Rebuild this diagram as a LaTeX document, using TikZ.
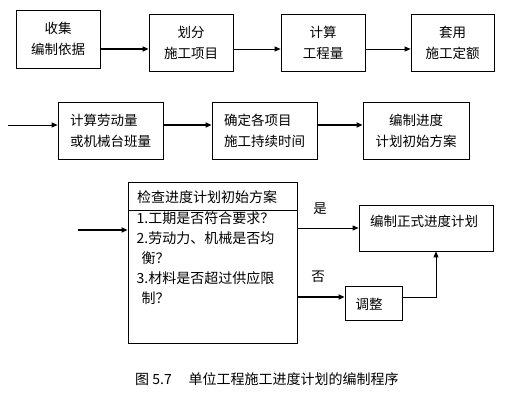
\documentclass[tikz,border=0pt]{standalone}
\usepackage{fontspec}
\setmainfont{Noto Sans CJK SC}
\usetikzlibrary{arrows.meta}
\begin{document}
\begin{tikzpicture}[x=1pt,y=-1pt,
  every node/.style={font=\fontsize{13.5}{21}\selectfont, inner sep=0pt},
  box/.style={draw, line width=0.8pt, minimum width=#1},
  thinarr/.style={line width=0.8pt, -{Triangle[length=6pt,width=5pt]}},
  thickarr/.style={line width=1.5pt, -{Triangle[length=6pt,width=5pt]}},
  plain/.style={line width=0.8pt}]
\fill[white] (0,0) rectangle (511,419);
\useasboundingbox (0,0) rectangle (511,419);
% row 1
\node[box=84pt, minimum height=58pt, align=center] (b1) at (58,39) {收集\\编制依据};
\node[box=84pt, minimum height=57pt, align=center] (b2) at (191,42.5) {划分\\施工项目};
\node[box=84pt, minimum height=57pt, align=center] (b3) at (323,42.5) {计算\\工程量};
\node[box=83pt, minimum height=57pt, align=center] (b4) at (452.5,42.5) {套用\\施工定额};
\coordinate (r1) at (0,49);
\draw[thickarr] (b1.east |- r1) -- (b2.west |- r1);
\draw[thinarr] (b2.east |- r1) -- (b3.west |- r1);
\draw[thinarr] (b3.east |- r1) -- (b4.west |- r1);
% row 2
\node[box=105pt, minimum height=57pt, align=left] (b5) at (110.5,130.5) {计算劳动量\\或机械台班量};
\node[box=105pt, minimum height=57pt, align=left] (b6) at (264.5,130.5) {确定各项目\\施工持续时间};
\node[box=106pt, minimum height=57pt, align=center] (b7) at (416,130.5) {编制进度\\计划初始方案};
\coordinate (r2) at (0,125);
\coordinate (in2) at (8,125);
\draw[thinarr] (in2) -- (b5.west |- r2);
\draw[thickarr] (b5.east |- r2) -- (b6.west |- r2);
\draw[thickarr] (b6.east |- r2) -- (b7.west |- r2);
% row 3
\node[box=169pt, minimum height=161pt] (big) at (212.5,262.5) {};
\coordinate (hl) at (0,210);
\draw[plain] (big.west |- hl) -- (big.east |- hl);
\node[anchor=west, font=\fontsize{14}{20}\selectfont] (head) at (137,197) {检查进度计划初始方案};
\node[anchor=north west, align=left, font=\fontsize{14}{20}\selectfont] (list) at (136.5,211)
  {1.工期是否符合要求？\\2.劳动力、机械是否均\\\hspace{5pt}衡？\\3.材料是否超过供应限\\\hspace{5pt}制？};
\coordinate (in3) at (78,230);
\draw[thickarr] (in3) -- (big.west |- in3);
\node[box=134pt, minimum height=46pt] (final) at (426,228) {};
\node (finaltext) at (424,221) {编制正式进度计划};
\node[box=57pt, minimum height=34pt] (adj) at (373.5,303) {};
\node (adjtext) at (369,304) {调整};
\draw[thinarr] (big.east |- final.west) -- (final.west);
\node (yes) at (320,209) {是};
\node (no) at (318,277) {否};
\coordinate (noy) at (0,297);
\coordinate (upx) at (436,0);
\draw[thickarr] (big.east |- noy) -- (adj.west |- noy);
\draw[thinarr] (adj.east |- noy) -| (upx |- final.south);
% caption
\node[anchor=west, font=\fontsize{14}{20}\selectfont] (cap) at (135,379) {图 5.7\hspace{1.2em}单位工程施工进度计划的编制程序};
\end{tikzpicture}
\end{document}
